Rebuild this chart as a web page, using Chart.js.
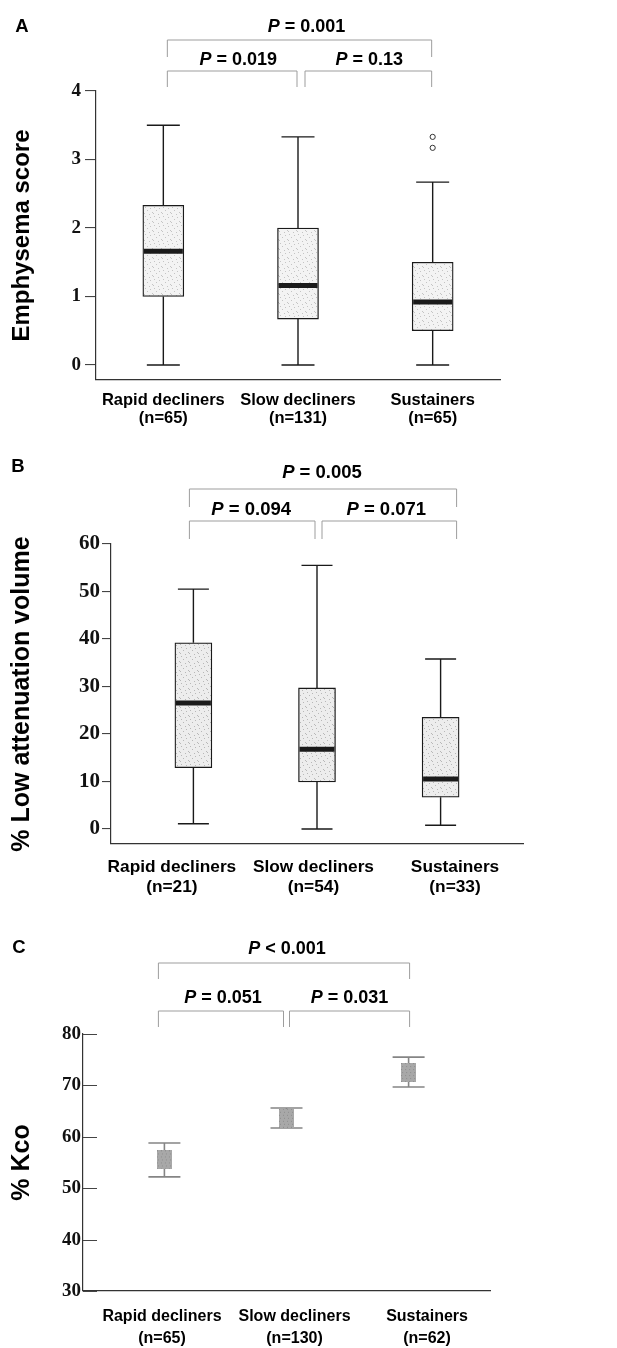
<!DOCTYPE html>
<html>
<head>
<meta charset="utf-8">
<script src="https://cdn.jsdelivr.net/npm/chart.js@4.4.0/dist/chart.umd.min.js"></script>
<style>
  body { margin: 0; background: #fff; width: 617px; height: 1348px; position: relative; overflow: hidden; }
  canvas { position: absolute; left: 0; }
</style>
</head>
<body>
<canvas id="chartA" width="617" height="430" style="top:0"></canvas>
<canvas id="chartB" width="617" height="470" style="top:440px"></canvas>
<canvas id="chartC" width="617" height="428" style="top:920px"></canvas>
<script>
// groups shared by all three panels
const groups = ['Rapid decliners', 'Slow decliners', 'Sustainers'];
const groupPos = [1, 2, 3];

// A - emphysema score (box plot)
const nA = [65, 131, 65];
const emphMin = [0, 0, 0];
const emphQ1 = [1.0, 0.67, 0.5];
const emphMedian = [1.66, 1.16, 0.92];
const emphQ3 = [2.33, 2.0, 1.5];
const emphMax = [3.5, 3.33, 2.67];
const emphOutliers = [[], [], [3.17, 3.33]];
const ticksA = [0, 1, 2, 3, 4];
const pA = ['= 0.001', '= 0.019', '= 0.13'];

// B - % low attenuation volume (box plot)
const nB = [21, 54, 33];
const lavMin = [1.1, 0, 0.8];
const lavQ1 = [12.9, 9.9, 6.7];
const lavMedian = [26.5, 16.8, 10.5];
const lavQ3 = [39.2, 29.7, 23.5];
const lavMax = [50.5, 55.5, 35.8];
const ticksB = [0, 10, 20, 30, 40, 50, 60];
const pB = ['= 0.005', '= 0.094', '= 0.071'];

// C - % Kco (mean with error bars)
const nC = [65, 130, 62];
const kcoMean = [55.5, 63.6, 72.5];
const kcoLow = [52.2, 61.7, 69.7];
const kcoHigh = [58.8, 65.6, 75.5];
const ticksC = [30, 40, 50, 60, 70, 80];
const pC = ['< 0.001', '= 0.051', '= 0.031'];

const SANS = '"Liberation Sans", Arial, Helvetica, sans-serif';
const SERIF = '"Liberation Serif", "Times New Roman", serif';

function stipple(canvasId, bg, dot) {
    const tile = document.createElement('canvas');
    tile.width = 9;
    tile.height = 9;
    const g = tile.getContext('2d');
    g.fillStyle = bg;
    g.fillRect(0, 0, 9, 9);
    g.fillStyle = dot;
    [[1, 0], [6, 1], [3, 3], [8, 5], [0, 6], [5, 7]].forEach(p => g.fillRect(p[0], p[1], 1, 1));
    return document.getElementById(canvasId).getContext('2d').createPattern(tile, 'repeat');
}

function markerImage() {
    const c = document.createElement('canvas');
    c.width = 15;
    c.height = 19;
    const g = c.getContext('2d');
    g.fillStyle = '#a8a8a8';
    g.fillRect(0, 0, 15, 19);
    g.fillStyle = '#8e8e8e';
    for (let yy = 0; yy < 19; yy += 3) {
        for (let xx = (yy % 2); xx < 15; xx += 4) g.fillRect(xx, yy, 1, 1);
    }
    return c;
}

function pLabel(ctx, rest, cx, cy, size) {
    const fP = 'italic bold ' + size + 'px ' + SANS;
    const fR = 'bold ' + size + 'px ' + SANS;
    const r = ' ' + rest;
    ctx.font = fP;
    const wP = ctx.measureText('P').width;
    ctx.font = fR;
    const wR = ctx.measureText(r).width;
    const left = cx - (wP + wR) / 2;
    ctx.textAlign = 'left';
    ctx.textBaseline = 'middle';
    ctx.fillStyle = '#000';
    ctx.font = fP;
    ctx.fillText('P', left, cy);
    ctx.font = fR;
    ctx.fillText(r, left + wP, cy);
}

// significance brackets + panel letter
function bracketPlugin(cfg) {
    return {
        id: 'brackets',
        afterDraw(chart) {
            const ctx = chart.ctx;
            const xs = groupPos.map(v => chart.scales.x.getPixelForValue(v));
            ctx.save();
            ctx.fillStyle = '#000';
            ctx.font = 'bold 18.5px ' + SANS;
            ctx.textAlign = 'center';
            ctx.textBaseline = 'middle';
            ctx.fillText(cfg.letter, cfg.letterX, cfg.letterY);
            cfg.spans.forEach(s => {
                const x0 = xs[s.from] + s.dx0;
                const x1 = xs[s.to] + s.dx1;
                ctx.strokeStyle = '#9d9d9d';
                ctx.lineWidth = 1;
                ctx.beginPath();
                ctx.moveTo(x0, s.legY);
                ctx.lineTo(x0, s.barY);
                ctx.lineTo(x1, s.barY);
                ctx.lineTo(x1, s.legY);
                ctx.stroke();
                pLabel(ctx, s.text, (x0 + x1) / 2 + s.tdx, s.textY, cfg.pSize);
            });
            ctx.restore();
        }
    };
}

// whiskers, caps and medians for the box plots
function whiskerPlugin(st, capW) {
    return {
        id: 'whiskers',
        afterDatasetsDraw(chart) {
            const ctx = chart.ctx;
            const x = chart.scales.x, y = chart.scales.y;
            const bars = chart.getDatasetMeta(0).data;
            ctx.save();
            ctx.strokeStyle = '#1a1a1a';
            groupPos.forEach((g, i) => {
                const px = x.getPixelForValue(g);
                const half = bars[i].width / 2;
                ctx.lineWidth = 1.4;
                ctx.beginPath();
                ctx.moveTo(px, y.getPixelForValue(st.q3[i]));
                ctx.lineTo(px, y.getPixelForValue(st.max[i]));
                ctx.moveTo(px, y.getPixelForValue(st.q1[i]));
                ctx.lineTo(px, y.getPixelForValue(st.min[i]));
                [st.max[i], st.min[i]].forEach(v => {
                    const py = y.getPixelForValue(v);
                    ctx.moveTo(px - capW / 2, py);
                    ctx.lineTo(px + capW / 2, py);
                });
                ctx.stroke();
                const pm = y.getPixelForValue(st.median[i]);
                ctx.lineWidth = 5;
                ctx.beginPath();
                ctx.moveTo(px - half + 1, pm);
                ctx.lineTo(px + half - 1, pm);
                ctx.stroke();
            });
            ctx.restore();
        }
    };
}

function errorBarPlugin(low, high, capW) {
    return {
        id: 'errbars',
        beforeDatasetsDraw(chart) {
            const ctx = chart.ctx;
            const x = chart.scales.x, y = chart.scales.y;
            ctx.save();
            ctx.strokeStyle = '#858585';
            ctx.lineWidth = 1.6;
            groupPos.forEach((g, i) => {
                const px = x.getPixelForValue(g);
                const yl = y.getPixelForValue(low[i]);
                const yh = y.getPixelForValue(high[i]);
                ctx.beginPath();
                ctx.moveTo(px, yl);
                ctx.lineTo(px, yh);
                ctx.moveTo(px - capW / 2, yh);
                ctx.lineTo(px + capW / 2, yh);
                ctx.moveTo(px - capW / 2, yl);
                ctx.lineTo(px + capW / 2, yl);
                ctx.stroke();
            });
            ctx.restore();
        }
    };
}

// panel C has its tick marks pointing into the plot
function inwardTicks(len) {
    return {
        id: 'inwardTicks',
        afterDraw(chart) {
            const ctx = chart.ctx;
            const y = chart.scales.y;
            const left = chart.chartArea.left;
            ctx.save();
            ctx.strokeStyle = '#444';
            ctx.lineWidth = 1.1;
            ctx.beginPath();
            y.ticks.forEach(t => {
                const py = Math.round(y.getPixelForValue(t.value)) + 0.5;
                ctx.moveTo(left, py);
                ctx.lineTo(left + len, py);
            });
            ctx.stroke();
            ctx.restore();
        }
    };
}

function dataAxis(min, max) {
    return { type: 'linear', display: false, offset: false, grid: { offset: false }, min: min, max: max };
}

function labelAxis(n, min, max, height, size, lh, pad) {
    return {
        type: 'linear',
        position: 'bottom',
        offset: false,
        min: min,
        max: max,
        afterBuildTicks: s => { s.ticks = groupPos.map(v => ({ value: v })); },
        afterFit: s => { s.height = height; },
        grid: { drawOnChartArea: false, drawTicks: false, offset: false },
        border: { color: '#333', width: 1.2 },
        ticks: {
            autoSkip: false,
            maxRotation: 0,
            padding: pad,
            color: '#000',
            font: { family: SANS, weight: 'bold', size: size, lineHeight: lh },
            callback: v => {
                const i = groupPos.indexOf(v);
                return i < 0 ? '' : [groups[i], '(n=' + n[i] + ')'];
            }
        }
    };
}

function valueAxis(min, max, ticks, width, title, titleSize, tickSize, tickLen, pad, drawTicks) {
    return {
        min: min,
        max: max,
        beginAtZero: false,
        afterBuildTicks: s => { s.ticks = ticks.map(v => ({ value: v })); },
        afterFit: s => { s.width = width; },
        border: { color: '#333', width: 1.2 },
        grid: { drawOnChartArea: false, drawTicks: drawTicks, tickLength: tickLen, color: '#444', lineWidth: 1.1 },
        ticks: { padding: pad, color: '#111', font: { family: SERIF, weight: 'bold', size: tickSize } },
        title: {
            display: true,
            text: title,
            color: '#000',
            padding: { top: 22 - titleSize * 0.6, bottom: 0 },
            font: { family: SANS, weight: 'bold', size: titleSize, lineHeight: 1.2 }
        }
    };
}

const common = {
    responsive: false,
    animation: false,
    events: [],
    plugins: { legend: { display: false }, tooltip: { enabled: false } }
};

// ---------- panel A ----------
const outlierPts = [];
emphOutliers.forEach((arr, i) => arr.forEach(v => outlierPts.push({ x: groupPos[i], y: v })));

new Chart(document.getElementById('chartA'), {
    type: 'bar',
    data: {
        datasets: [{
            xAxisID: 'x', yAxisID: 'y',
            data: groupPos.map((g, i) => ({ x: g, y: [emphQ1[i], emphQ3[i]] })),
            backgroundColor: stipple('chartA', '#f3f3f3', '#c4c4c4'),
            borderColor: '#1a1a1a',
            borderWidth: 1.3,
            borderSkipped: false,
            barThickness: 41
        }, {
            type: 'scatter',
            xAxisID: 'x', yAxisID: 'y',
            data: outlierPts,
            pointStyle: 'circle',
            radius: 2.6,
            borderWidth: 1,
            borderColor: '#333',
            backgroundColor: '#fff'
        }]
    },
    options: Object.assign({}, common, {
        layout: { padding: { top: 91, right: 117, left: 0, bottom: 0 } },
        scales: {
            x: dataAxis(0.5, 3.5),
            xl: labelAxis(nA, 0.5, 3.5, 50, 16.5, 1.1, 11),
            y: valueAxis(-0.22, 4, ticksA, 96, 'Emphysema score', 24, 19, 11, 4, true)
        }
    }),
    plugins: [
        whiskerPlugin({ min: emphMin, q1: emphQ1, median: emphMedian, q3: emphQ3, max: emphMax }, 33),
        bracketPlugin({
            letter: 'A', letterX: 22, letterY: 27, pSize: 18,
            spans: [
                { from: 0, to: 2, dx0: 4, dx1: -1, barY: 40, legY: 57, textY: 27, tdx: 7, text: pA[0] },
                { from: 0, to: 1, dx0: 4, dx1: -1, barY: 71, legY: 87, textY: 60, tdx: 6, text: pA[1] },
                { from: 1, to: 2, dx0: 7, dx1: -1, barY: 71, legY: 87, textY: 60, tdx: 1, text: pA[2] }
            ]
        })
    ]
});

// ---------- panel B ----------
new Chart(document.getElementById('chartB'), {
    type: 'bar',
    data: {
        datasets: [{
            xAxisID: 'x', yAxisID: 'y',
            data: groupPos.map((g, i) => ({ x: g, y: [lavQ1[i], lavQ3[i]] })),
            backgroundColor: stipple('chartB', '#ededed', '#b8b8b8'),
            borderColor: '#1a1a1a',
            borderWidth: 1.3,
            borderSkipped: false,
            barThickness: 37
        }]
    },
    options: Object.assign({}, common, {
        layout: { padding: { top: 104, right: 94, left: 0, bottom: 0 } },
        scales: {
            x: dataAxis(1 / 3, 11 / 3),
            xl: labelAxis(nB, 0.57, 3.48, 66, 17.3, 1.16, 13),
            y: valueAxis(-3.16, 60, ticksB, 111, '% Low attenuation volume', 25, 21, 9, 2, true)
        }
    }),
    plugins: [
        whiskerPlugin({ min: lavMin, q1: lavQ1, median: lavMedian, q3: lavQ3, max: lavMax }, 31),
        bracketPlugin({
            letter: 'B', letterX: 18, letterY: 27, pSize: 18.5,
            spans: [
                { from: 0, to: 2, dx0: -4, dx1: 16, barY: 49, legY: 67, textY: 33, tdx: -1, text: pB[0] },
                { from: 0, to: 1, dx0: -4, dx1: -2, barY: 81, legY: 99, textY: 70, tdx: -1, text: pB[1] },
                { from: 1, to: 2, dx0: 5, dx1: 16, barY: 81, legY: 99, textY: 70, tdx: -3, text: pB[2] }
            ]
        })
    ]
});

// ---------- panel C ----------
new Chart(document.getElementById('chartC'), {
    type: 'scatter',
    data: {
        datasets: [{
            xAxisID: 'x', yAxisID: 'y',
            data: groupPos.map((g, i) => ({ x: g, y: kcoMean[i] })),
            pointStyle: markerImage()
        }]
    },
    options: Object.assign({}, common, {
        layout: { padding: { top: 114, right: 127, left: 0, bottom: 0 } },
        scales: {
            x: dataAxis(1 / 3, 11 / 3),
            xl: labelAxis(nC, 0.404, 3.475, 57, 16, 1.375, 15),
            y: valueAxis(30, 80, ticksC, 83, '% Kco', 25, 19, 0, 2, false)
        }
    }),
    plugins: [
        errorBarPlugin(kcoLow, kcoHigh, 32),
        inwardTicks(14),
        bracketPlugin({
            letter: 'C', letterX: 19, letterY: 28, pSize: 18,
            spans: [
                { from: 0, to: 2, dx0: -6, dx1: 1, barY: 43, legY: 59, textY: 29, tdx: 3, text: pC[0] },
                { from: 0, to: 1, dx0: -6, dx1: -3, barY: 91, legY: 107, textY: 78, tdx: 2, text: pC[1] },
                { from: 1, to: 2, dx0: 3, dx1: 1, barY: 91, legY: 107, textY: 78, tdx: 0, text: pC[2] }
            ]
        })
    ]
});
</script>
</body>
</html>
